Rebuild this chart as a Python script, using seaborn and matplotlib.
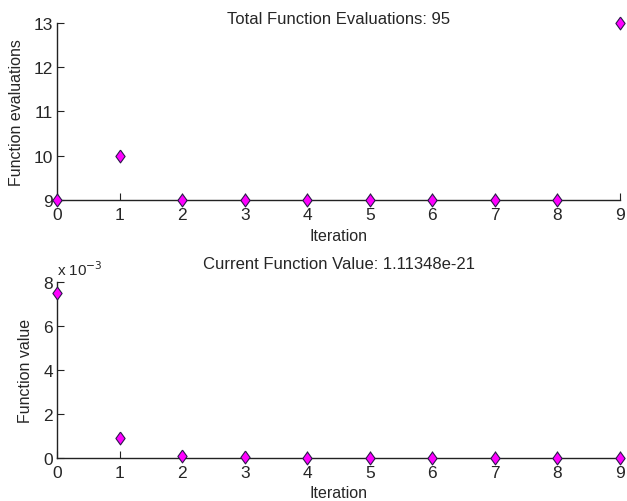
import matplotlib
matplotlib.use("Agg")
import matplotlib.pyplot as plt
import seaborn as sns
import pandas as pd
from matplotlib.ticker import FuncFormatter

iterations = [0, 1, 2, 3, 4, 5, 6, 7, 8, 9]
func_evals = [9, 10, 9, 9, 9, 9, 9, 9, 9, 13]
func_values = [7.5e-3, 0.9e-3, 0.08e-3, 0.03e-3, 0.02e-3, 0.01e-3, 0.005e-3, 0.002e-3, 0.001e-3, 0.0]

title_top = "Total Function Evaluations: 95"
title_bottom = "Current Function Value: 1.11348e-21"

sns.set_style("white")
plt.rcParams['font.family'] = ['Liberation Sans', 'DejaVu Sans']
plt.rcParams['font.size'] = 11

df = pd.DataFrame({"Iteration": iterations, "evals": func_evals, "value": func_values})

diamond = [(0, 1), (0.72, 0), (0, -1), (-0.72, 0), (0, 1)]

fig = plt.figure(figsize=(6.27, 5.02), dpi=100)
ax1 = fig.add_axes([0.0909, 0.5996, 0.898, 0.3526])
ax2 = fig.add_axes([0.0909, 0.0857, 0.898, 0.3506])

for ax, col, ylab, title, ylim, yt, tpad, ylpad in [
    (ax1, "evals", "Function evaluations", title_top, (9, 13), [9, 10, 11, 12, 13], 0, 7),
    (ax2, "value", "Function value", title_bottom, (0, 8e-3), [0, 2e-3, 4e-3, 6e-3, 8e-3], 10, 7),
]:
    sns.scatterplot(data=df, x="Iteration", y=col, ax=ax, marker=diamond, s=85,
                    color="#ff00ff", edgecolor="#2a1a4a", linewidth=0.8,
                    clip_on=False, zorder=5, legend=False)
    ax.set_xlim(0, 9)
    ax.set_ylim(*ylim)
    ax.set_xticks(iterations)
    ax.set_yticks(yt)
    ax.set_xlabel("Iteration", fontsize=11.5, labelpad=4)
    ax.set_ylabel(ylab, fontsize=11.5, labelpad=ylpad)
    ax.set_title(title, fontsize=12, pad=tpad)
    for s in ["top", "right"]:
        ax.spines[s].set_visible(False)
    for s in ["left", "bottom"]:
        ax.spines[s].set_color("#222222")
        ax.spines[s].set_linewidth(1.0)
    ax.tick_params(axis="x", pad=5)
    ax.tick_params(direction="in", length=5, width=0.8, color="#222222",
                   labelsize=12.5, left=True, bottom=True)
    ax.tick_params(axis="y", pad=3)

ax2.yaxis.set_major_formatter(FuncFormatter(lambda v, p: f"{v*1e3:g}"))
ax2.text(0.0, 1.02, "x 10$^{-3}$", transform=ax2.transAxes, fontsize=11,
         ha="left", va="bottom")

fig.savefig("out.png", dpi=100, facecolor="white")
